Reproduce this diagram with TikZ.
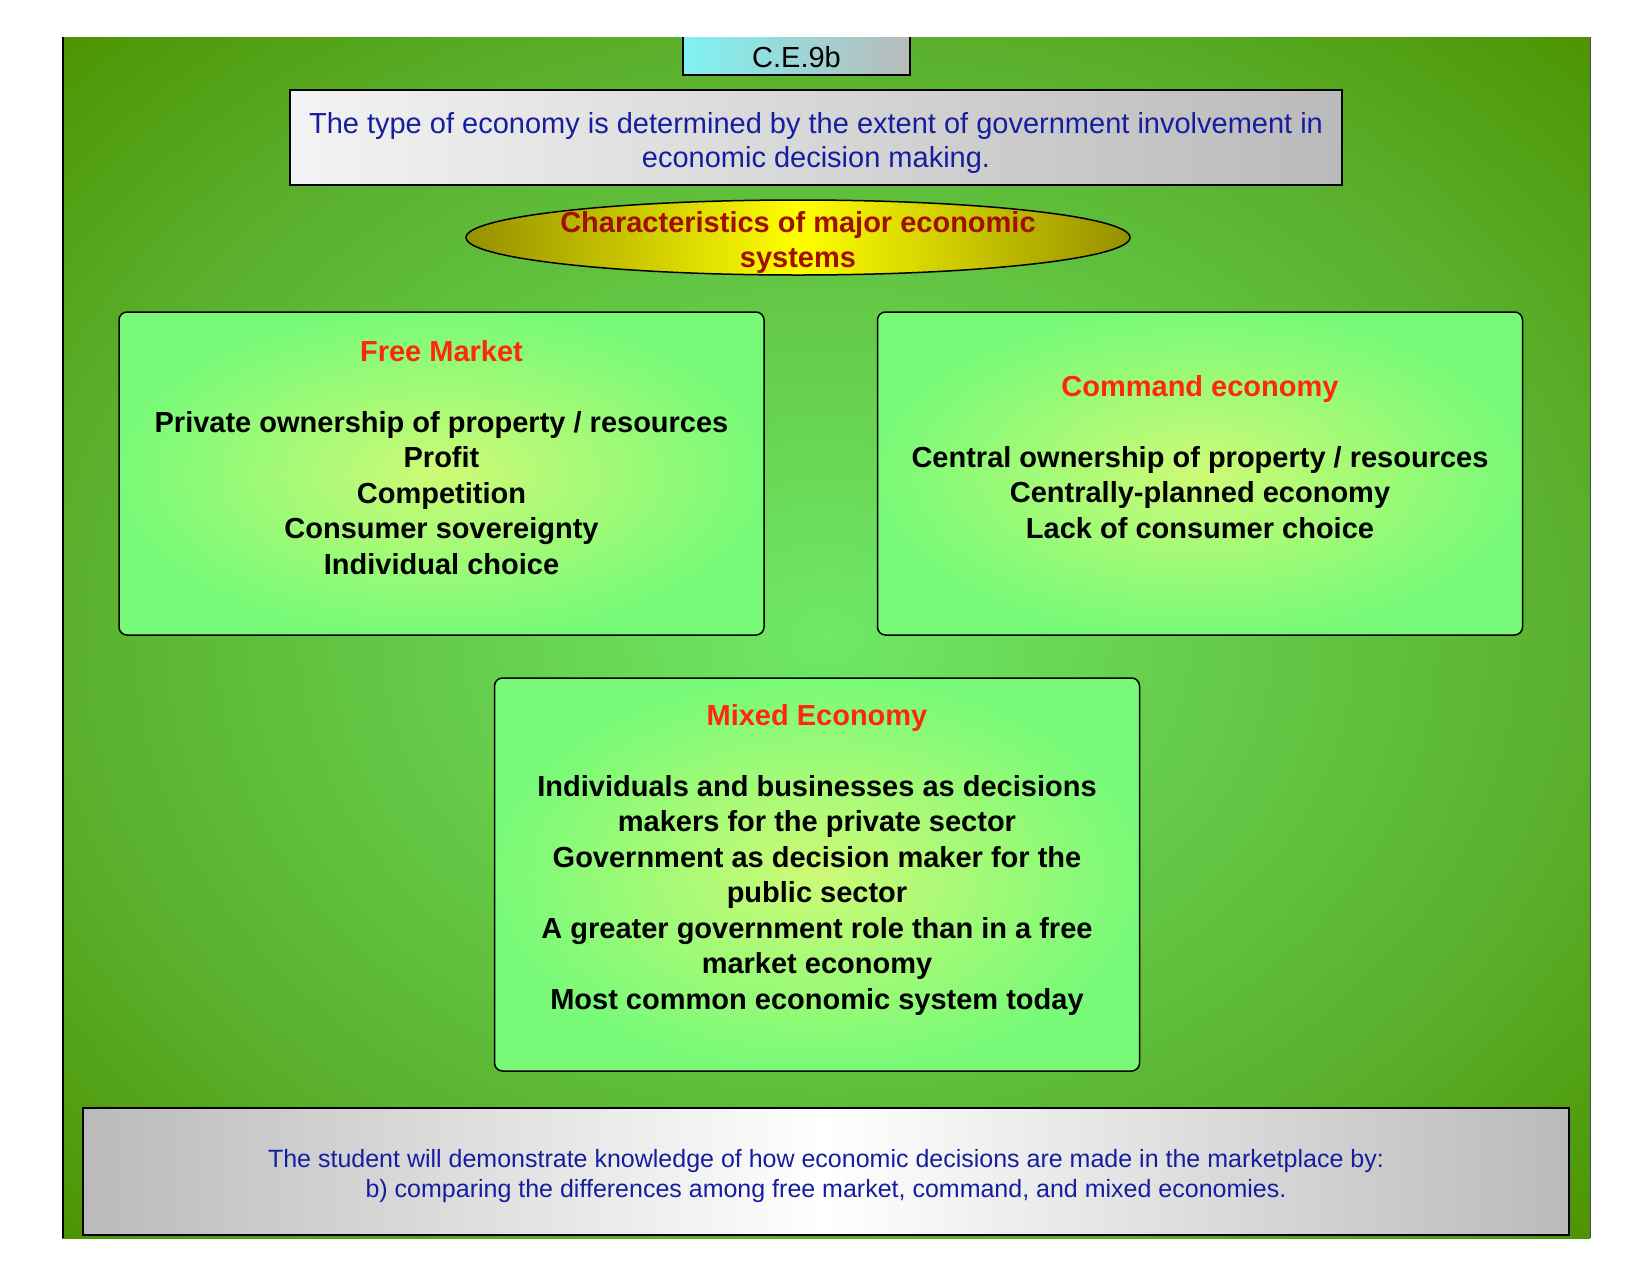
\documentclass[tikz,border=0pt]{standalone}
\usepackage{fontspec}
\setmainfont{Liberation Sans}
\usetikzlibrary{shapes.geometric}
\definecolor{bgin}{RGB}{112,232,104}
\definecolor{bgmid}{RGB}{90,176,44}
\definecolor{bgout}{RGB}{76,146,0}
\definecolor{boxin}{RGB}{206,250,118}
\definecolor{boxout}{RGB}{120,250,120}
\definecolor{lightg}{RGB}{243,243,243}
\definecolor{midg}{RGB}{186,186,186}
\definecolor{cyanl}{RGB}{126,242,242}
\definecolor{olive}{RGB}{150,144,0}
\definecolor{yel}{RGB}{255,255,0}
\definecolor{txtblue}{RGB}{22,30,160}
\definecolor{titlered}{RGB}{255,40,10}
\definecolor{darkred}{RGB}{160,16,0}
\pgfdeclareradialshading{bgshade}{\pgfpoint{0bp}{0bp}}{color(0bp)=(bgin); color(25bp)=(bgmid); color(36bp)=(bgout); color(50bp)=(bgout)}
\newcommand\tstrut{\rule{0pt}{0.76em}}
\tikzset{
  econbox/.style={draw=black, line width=1.5pt, rounded corners=8pt, inner color=boxin, outer color=boxout, minimum width=645pt, inner sep=0pt},
  bodytext/.style={font=\bfseries\fontsize{29}{35.5}\selectfont, align=center, inner sep=0pt, anchor=north},
  titletext/.style={text=titlered},
  greybox/.style={draw=black, line width=2pt, inner sep=0pt},
}
\begin{document}
\begin{tikzpicture}[x=1pt,y=-1pt]
\useasboundingbox (0,0) rectangle (1651,1275);
% background
\path[shading=bgshade] (62,37) rectangle (1590,1238);
\draw[line width=2.5pt] (63,37) coordinate (bgtl) -- (63,1238) coordinate (bgbl);
\draw[line width=0.6pt, black!70] (1590,37) coordinate (bgtr) -- (1590,1238) coordinate (bgbr);
% code label
\node[inner sep=0pt, minimum width=227pt, minimum height=38pt, left color=cyanl, right color=midg] (ce) at (796.5,56) {};
\draw[line width=1.5pt] (ce.north west) -- (ce.south west) -- (ce.south east) -- (ce.north east);
\node[font=\fontsize{29}{34}\selectfont, anchor=base, inner sep=0pt] (cetext) at (796.5,67) {C.E.9b};
% statement
\node[greybox, minimum width=1052pt, minimum height=95pt, left color=lightg, right color=midg] (stmt) at (816,137.5) {};
\node[font=\fontsize{29}{34}\selectfont, align=center, inner sep=0pt, anchor=north, text=txtblue] (stmttext) at (816,111)
  {\tstrut The type of economy is determined by the extent of government involvement in\\economic decision making.};
% ellipse
\node[ellipse, draw=black, line width=1.5pt, minimum width=664pt, minimum height=75pt, inner sep=0pt, left color=olive, right color=olive, middle color=yel] (char) at (798,237.5) {};
\node[bodytext, font=\bfseries\fontsize{29}{35}\selectfont, text=darkred] (chartext) at (798,210)
  {\tstrut Characteristics of major economic\\systems};
% Free market
\node[econbox, minimum height=323pt] (fm) at (441.5,473.5) {};
\node[bodytext] (fmtext) at (441.5,339)
  {{\color{titlered}\tstrut Free Market}\\[35.5pt]
   Private ownership of property / resources\\Profit\\Competition\\Consumer sovereignty\\Individual choice};
% Command economy
\node[econbox, minimum height=323pt] (cmd) at (1200,473.5) {};
\node[bodytext] (cmdtext) at (1200,374)
  {{\color{titlered}\tstrut Command economy}\\[35.5pt]
   Central ownership of property / resources\\Centrally-planned economy\\Lack of consumer choice};
% Mixed economy
\node[econbox, minimum height=393pt] (mix) at (817,874.5) {};
\node[bodytext] (mixtext) at (817,703)
  {{\color{titlered}\tstrut Mixed Economy}\\[35.5pt]
   Individuals and businesses as decisions\\makers for the private sector\\Government as decision maker for the\\public sector\\A greater government role than in a free\\market economy\\Most common economic system today};
% bottom standard
\node[greybox, minimum width=1486pt, minimum height=127pt, left color=midg, right color=midg, middle color=white] (std) at (826,1171.5) {};
\node[font=\fontsize{25}{30}\selectfont, align=center, inner sep=0pt, anchor=north, text=txtblue] (stdtext) at (826,1148)
  {\tstrut The student will demonstrate knowledge of how economic decisions are made in the marketplace by:\\b) comparing the differences among free market, command, and mixed economies.};
\end{tikzpicture}
\end{document}
